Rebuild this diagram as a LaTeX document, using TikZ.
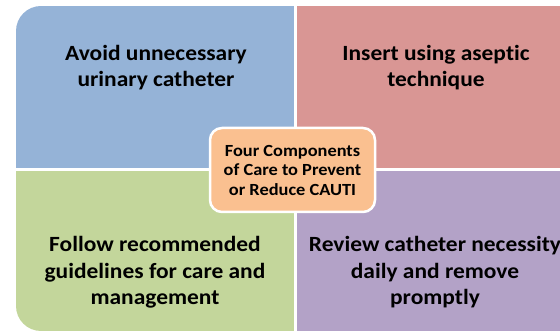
\documentclass[tikz,border=0pt]{standalone}
\usepackage{fontspec}
\setmainfont{Carlito}[FakeStretch=1.08,Ligatures=NoCommon]
\definecolor{avoidblue}{RGB}{149,179,215}
\definecolor{insertred}{RGB}{217,150,148}
\definecolor{followgreen}{RGB}{195,214,155}
\definecolor{reviewpurple}{RGB}{179,162,199}
\definecolor{hubpeach}{RGB}{250,192,144}
\begin{document}
\begin{tikzpicture}[x=1pt,y=-1pt,
  corner/.style={font=\bfseries\fontsize{21.7}{26.5}\selectfont,align=center,anchor=base},
  hub/.style={draw=white,line width=2.5pt,fill=hubpeach,rounded corners=12pt,
    minimum width=165pt,minimum height=84pt,inner sep=0pt,align=center,
    font=\bfseries\fontsize{17}{19.5}\selectfont}]
\useasboundingbox (0,0) rectangle (560,331);
\begin{scope}
\clip[rounded corners=25pt] (16,6) rectangle (600,331);
\fill[avoidblue] (16,6) rectangle (294,168);
\fill[insertred] (297,6) rectangle (600,168);
\fill[followgreen] (16,171) rectangle (294,331);
\fill[reviewpurple] (297,171) rectangle (600,331);
\end{scope}
\node[corner] (avoid) at (156,87) {Avoid unnecessary\\urinary catheter};
\node[corner] (insert) at (436,87) {Insert using aseptic\\technique};
\node[corner] (follow) at (155,305) {Follow recommended\\guidelines for care and\\management};
\node[corner] (review) at (435,305) {Review catheter necessity\\daily and remove\\promptly};
\node[hub] (cauti) at (292.5,170) {Four Components\\of Care to Prevent\\or Reduce CAUTI};
\end{tikzpicture}
\end{document}
